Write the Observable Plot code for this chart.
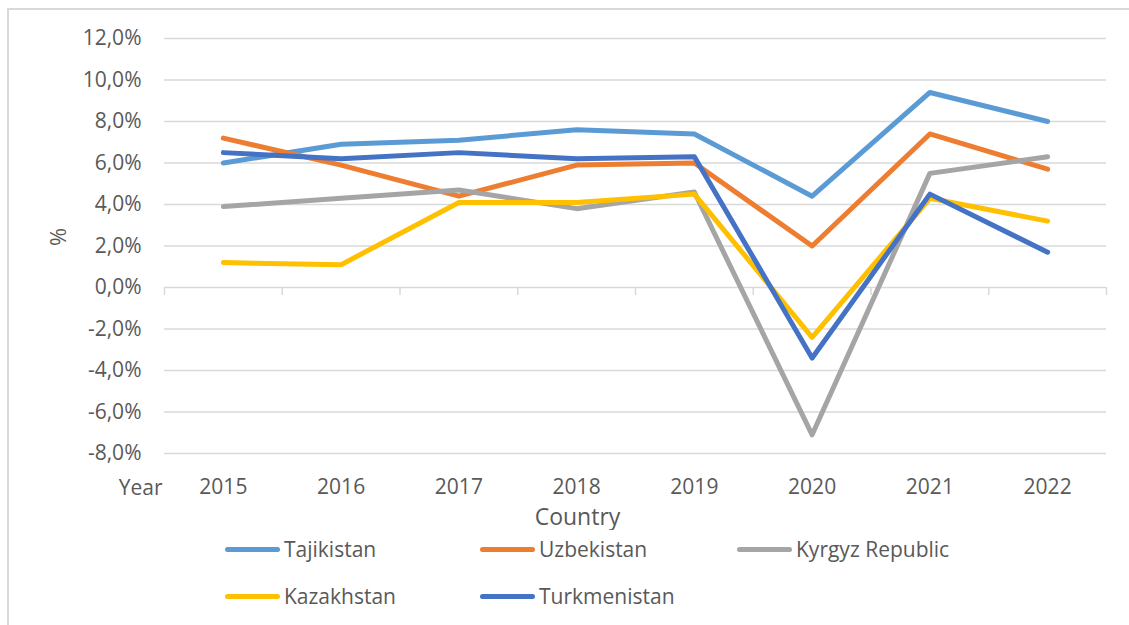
<!DOCTYPE html>
<html>
<head>
<meta charset="utf-8">
<script src="https://cdn.jsdelivr.net/npm/d3@7"></script>
<script src="https://cdn.jsdelivr.net/npm/@observablehq/plot@0.6"></script>
<style>
  html, body { margin: 0; padding: 0; background: #fff; }
  body { width: 1129px; height: 625px; position: relative; overflow: hidden; font-family: "Open Sans", sans-serif; }
  #frame { position: absolute; left: 7px; top: 8px; width: 1130px; height: 630px; border-top: 2px solid #d9d9d9; border-left: 2px solid #d9d9d9; box-sizing: border-box; }
  #chart { position: absolute; left: 0; top: 0; }
  #legend { position: absolute; left: 225px; top: 532px; display: grid; grid-template-columns: 255px 257px auto; grid-auto-rows: 47px; color: #595959; font-size: 21px; }
  .item { display: flex; align-items: center; height: 34px; }
  .sw { width: 55px; height: 5px; border-radius: 3px; margin-right: 4px; }
</style>
</head>
<body>
<div id="frame"></div>
<div id="chart"></div>
<div id="legend"></div>
<script>
const years = [2015, 2016, 2017, 2018, 2019, 2020, 2021, 2022];
const countries = ["Tajikistan", "Uzbekistan", "Kyrgyz Republic", "Kazakhstan", "Turkmenistan"];
const colors = ["#5B9BD5", "#ED7D31", "#A5A5A5", "#FFC000", "#4472C4"];
const tajikistan   = [6.0, 6.9, 7.1, 7.6, 7.4, 4.4, 9.4, 8.0];
const uzbekistan   = [7.2, 5.9, 4.4, 5.9, 6.0, 2.0, 7.4, 5.7];
const kyrgyz       = [3.9, 4.3, 4.7, 3.8, 4.6, -7.1, 5.5, 6.3];
const kazakhstan   = [1.2, 1.1, 4.1, 4.1, 4.5, -2.4, 4.3, 3.2];
const turkmenistan = [6.5, 6.2, 6.5, 6.2, 6.3, -3.4, 4.5, 1.7];
const yTicks = [-8, -6, -4, -2, 0, 2, 4, 6, 8, 10, 12];

const series = [tajikistan, uzbekistan, kyrgyz, kazakhstan, turkmenistan];
const rows = [];
countries.forEach((c, i) => years.forEach((y, j) => rows.push({country: c, year: y, value: series[i][j]})));
const bounds = years.map(y => y - 0.5).concat([years[years.length - 1] + 0.5]);
const fmt = d => d.toFixed(1).replace(".", ",") + "%";
const textColor = "#595959";

const chart = Plot.plot({
  width: 1129,
  height: 530,
  marginLeft: 164,
  marginRight: 23,
  marginTop: 38,
  marginBottom: 77,
  style: {fontFamily: "Open Sans, sans-serif", fontSize: "21px", color: textColor, background: "transparent"},
  x: {type: "linear", domain: [bounds[0], bounds[bounds.length - 1]]},
  y: {domain: [-8, 12]},
  color: {domain: countries, range: colors},
  marks: [
    Plot.ruleY(yTicks, {stroke: "#d9d9d9", strokeWidth: 1.5}),
    Plot.ruleX(bounds, {x: d => d, y1: 0, y2: 0, insetBottom: -8, stroke: "#d9d9d9", strokeWidth: 1.5}),
    Plot.axisY(yTicks, {tickSize: 0, tickPadding: 23, tickFormat: fmt, fill: textColor, fontSize: 21, label: null}),
    Plot.axisX(years, {tickSize: 0, tickPadding: 26, tickFormat: d => String(d), fill: textColor, fontSize: 21, label: null}),
    Plot.lineY(rows, {x: "year", y: "value", z: "country", stroke: "country", strokeWidth: 5, strokeLinejoin: "round", strokeLinecap: "round"}),
    Plot.text(["Year"], {frameAnchor: "bottom-left", textAnchor: "end", dx: -2, dy: 41, fill: textColor, fontSize: 21}),
    Plot.text(["Country"], {frameAnchor: "bottom", dx: -58, dy: 71, fill: textColor, fontSize: 23}),
    Plot.text(["%"], {frameAnchor: "left", rotate: -90, dx: -106, fill: textColor, fontSize: 22})
  ]
});
document.getElementById("chart").appendChild(chart);

const legend = document.getElementById("legend");
countries.forEach((c, i) => {
  const item = document.createElement("div");
  item.className = "item";
  const sw = document.createElement("span");
  sw.className = "sw";
  sw.style.background = colors[i];
  const lab = document.createElement("span");
  lab.textContent = c;
  item.appendChild(sw);
  item.appendChild(lab);
  legend.appendChild(item);
});
</script>
</body>
</html>
